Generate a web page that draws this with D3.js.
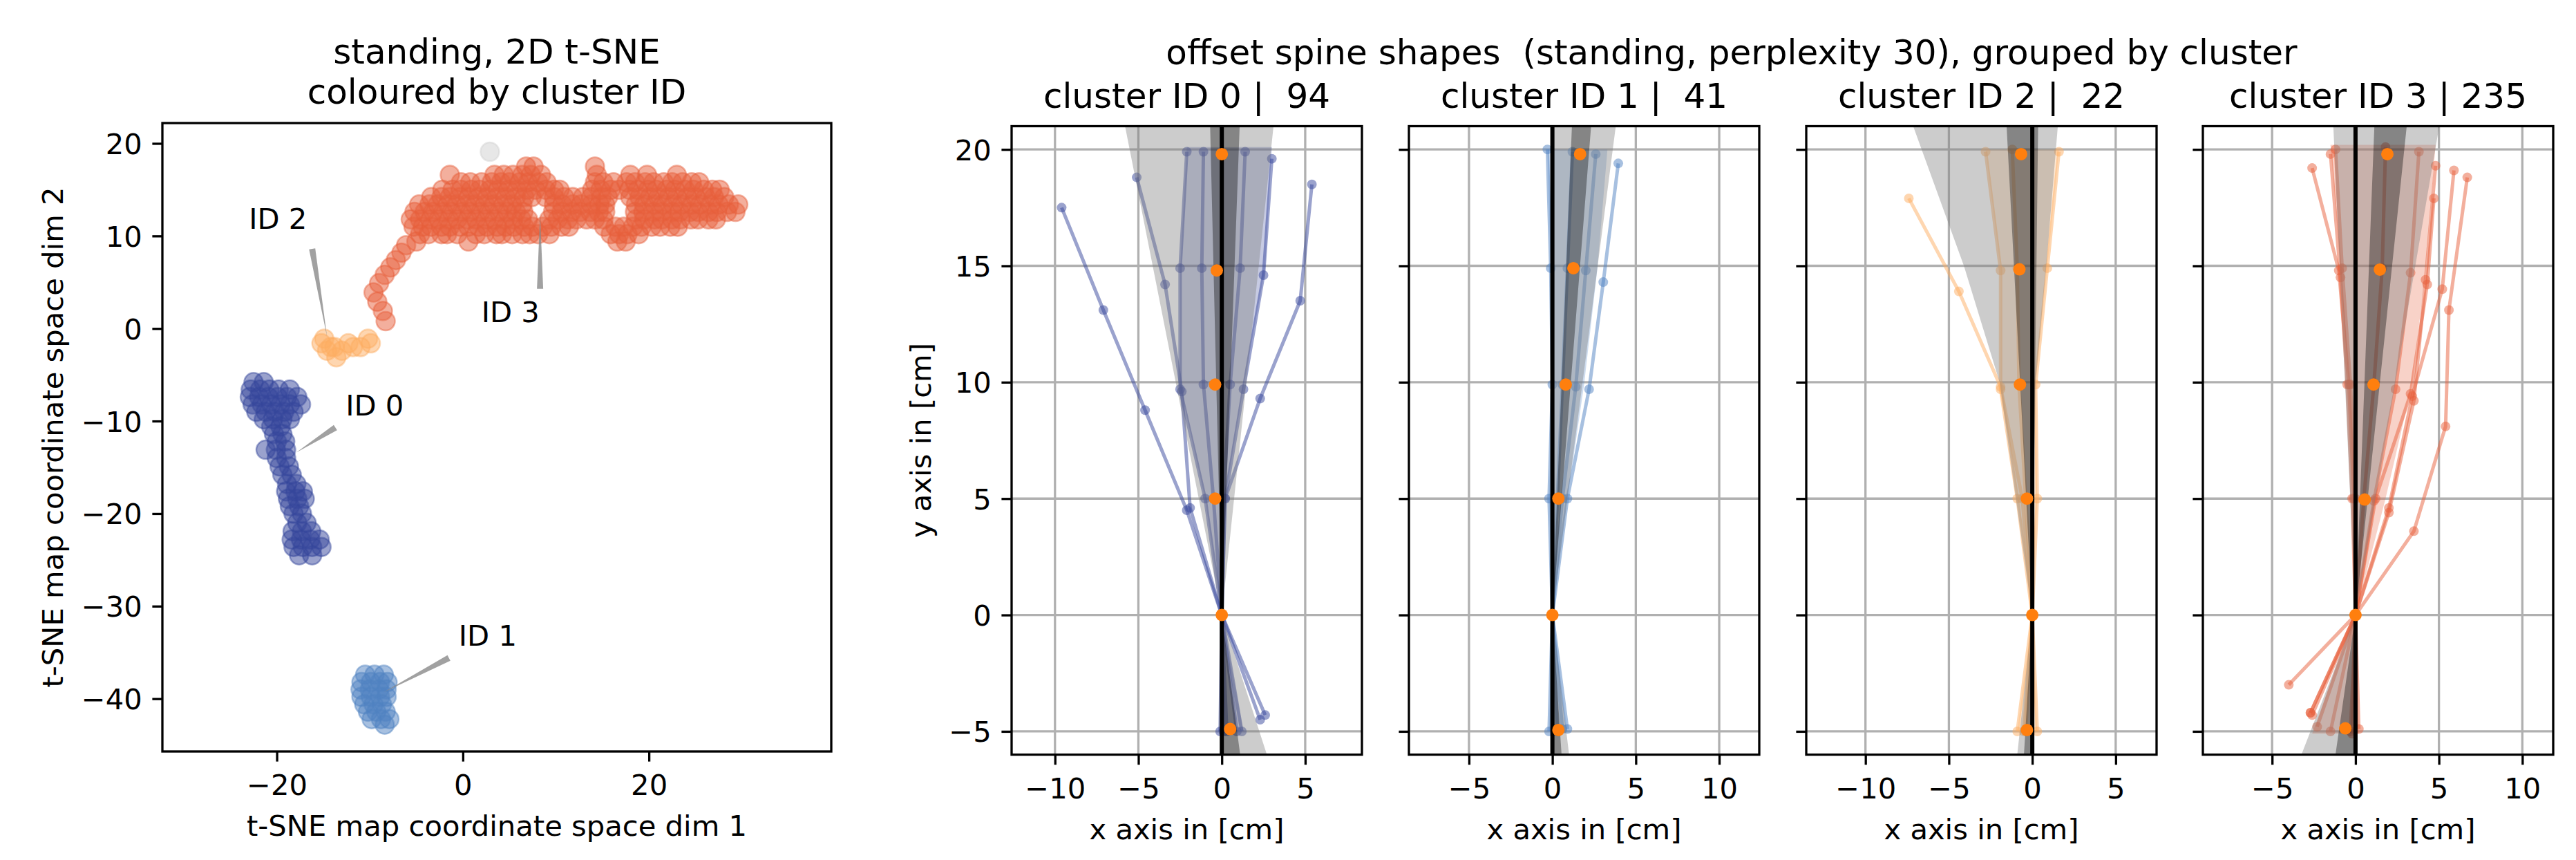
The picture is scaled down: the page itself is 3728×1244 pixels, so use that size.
<!DOCTYPE html>
<html>
<head>
<meta charset="utf-8">
<script src="https://cdn.jsdelivr.net/npm/d3@7"></script>
<style>
  body { margin: 0; background: #fff; }
  text { font-family: "DejaVu Sans", sans-serif; fill: #000; }
</style>
</head>
<body>
<div class="chart"></div>
<script>
// ---------------- data: t-SNE map (left) ----------------
var clusterIds = [0, 1, 2, 3];
var clusterColors = ["#35469c", "#4f82c2", "#fdae61", "#e75f3b"];
var noiseColor = "#d0d0d0";

// points stored as rows: [y, [x, x, ...]]
var tsneRows0 = [
  [-5.8, [-22.5, -21.4]],
  [-6.6, [-22.8, -21.8, -20.8, -19.8, -18.6]],
  [-7.4, [-22.9, -21.9, -20.9, -19.9, -18.9, -17.8]],
  [-8.2, [-22.6, -21.6, -20.6, -19.6, -18.6, -17.4]],
  [-9.0, [-22.2, -21.2, -20.2, -19.2, -18.2]],
  [-9.8, [-21.4, -20.4, -19.4, -18.6]],
  [-10.6, [-20.6, -19.6]],
  [-11.4, [-20.3, -19.4]],
  [-12.2, [-20.0, -19.1]],
  [-13.1, [-21.2, -20.1, -19.0]],
  [-14.0, [-20.0, -19.0]],
  [-14.9, [-19.7, -18.7]],
  [-15.8, [-19.4, -18.4]],
  [-16.8, [-18.9, -17.9]],
  [-17.6, [-19.0, -18.0, -17.2]],
  [-18.4, [-18.8, -17.8, -17.0]],
  [-19.2, [-18.6, -17.6]],
  [-20.0, [-18.2, -17.3]],
  [-21.0, [-17.8, -16.8]],
  [-21.9, [-18.3, -17.3, -16.3]],
  [-22.8, [-18.4, -17.4, -16.4, -15.4]],
  [-23.6, [-18.2, -17.2, -16.2, -15.2]],
  [-24.5, [-17.6, -16.2]]
];
var tsneRows1 = [
  [-37.4, [-10.5, -9.5, -8.5]],
  [-38.2, [-10.9, -9.9, -8.9, -8.1]],
  [-39.0, [-11.0, -10.0, -9.0, -8.2]],
  [-39.8, [-10.9, -9.9, -8.9, -8.2]],
  [-40.6, [-10.6, -9.6, -8.7]],
  [-41.4, [-10.2, -9.3, -8.3]],
  [-42.2, [-9.8, -8.8, -7.9]],
  [-42.8, [-8.4]]
];
var tsneRows2 = [
  [-1.1, [-14.9, -10.2]],
  [-1.6, [-15.2, -12.3, -9.9]],
  [-2.0, [-14.2, -13.8, -11.8, -11.0]],
  [-2.4, [-14.6, -13.0]],
  [-3.1, [-13.6]]
];
var tsneRows3 = [
  // rising tail
  [0.8, [-8.3]], [1.9, [-8.6]], [2.9, [-9.2]], [3.9, [-9.6]], [4.9, [-9.0]], [5.8, [-8.4]],
  [6.6, [-7.8]], [7.4, [-7.2]], [8.2, [-6.6]], [9.0, [-6.1]],
  // body
  [9.4, [-5.0, 0.6, 16.6, 17.5]],
  [10.2, [-4.6, -3.7, -2.3, -1.7, -0.6, 1.4, 2.3, 3.6, 4.2, 5.3, 6.4, 7.2, 8.1, 9.3, 15.9, 16.8, 17.7, 18.9]],
  [11.0, [-5.3, -4.3, -3.4, -2.3, -1.4, -0.3, 0.6, 1.7, 2.6, 3.7, 4.6, 5.5, 6.6, 7.5, 8.6, 9.5, 10.6, 11.4,
          15.2, 16.4, 17.3, 18.3, 19.2, 20.3, 21.2, 22.3, 23.1]],
  [11.8, [-5.6, -4.6, -3.5, -2.6, -1.5, -0.6, 0.5, 1.4, 2.5, 3.4, 4.5, 5.4, 6.3, 7.0, 9.3, 10.2, 11.3, 12.2,
          13.3, 14.2, 15.1, 18.6, 19.5, 20.6, 21.4, 22.5, 23.4, 24.5, 25.3, 26.4, 27.2]],
  [12.6, [-5.2, -4.1, -3.2, -2.1, -1.2, -0.1, 0.8, 1.9, 2.8, 3.9, 4.8, 5.7, 6.5, 9.7, 10.6, 11.7, 12.6, 13.7,
          14.6, 15.3, 18.5, 19.4, 20.5, 21.4, 22.5, 23.3, 24.4, 25.3, 26.4, 27.3, 28.4, 29.3]],
  [13.4, [-4.7, -3.6, -2.7, -1.6, -0.7, 0.4, 1.3, 2.4, 3.3, 4.4, 5.3, 6.4, 9.8, 10.7, 11.8, 12.7, 13.8, 14.7,
          15.3, 18.6, 19.5, 20.6, 21.5, 22.6, 23.5, 24.6, 25.5, 26.6, 27.5, 28.6, 29.6]],
  [14.2, [-3.4, -2.3, -1.4, -0.3, 0.6, 1.7, 2.6, 3.7, 4.6, 5.7, 6.6, 7.4, 8.9, 9.8, 10.9, 11.8, 12.9, 13.8,
          14.9, 15.6, 18.0, 19.0, 20.1, 21.0, 22.1, 23.0, 24.1, 25.0, 26.1, 27.0, 28.1]],
  [15.0, [-2.2, -1.1, -0.2, 0.9, 1.8, 2.9, 3.8, 4.9, 5.8, 6.9, 7.8, 8.9, 9.8, 10.4, 13.9, 14.8, 15.9, 16.8,
          17.9, 18.8, 19.9, 20.8, 21.9, 22.8, 23.9, 24.8, 25.9, 26.8, 27.6]],
  [15.8, [-0.2, 0.8, 2.0, 3.1, 4.1, 5.0, 6.1, 7.0, 8.1, 9.0, 14.2, 15.1, 16.2, 17.6, 18.5, 19.6, 20.5, 21.6,
          22.5, 23.6, 24.6, 25.4]],
  [16.6, [-1.4, 3.4, 4.4, 5.4, 6.4, 7.3, 8.4, 14.4, 18.0, 19.8, 23.0]],
  [17.5, [6.8, 7.6, 14.2]]
];
var tsneNoise = [[2.9, 19.1]];

var tsneXTicks = [-20, 0, 20];
var tsneYTicks = [-40, -30, -20, -10, 0, 10, 20];

var annotLabels = ["ID 0", "ID 1", "ID 2", "ID 3"];
var annotText = [[-12.6, -9.4], [-0.45, -34.3], [-23.0, 10.75], [1.99, 0.67]];
var annotFrom = [[-13.7, -10.7], [-1.5, -35.6], [-16.2, 8.6], [8.3, 4.3]];
var annotTo = [[-17.9, -13.4], [-8.5, -39.3], [-14.6, -0.9], [8.3, 12.3]];

// ---------------- data: spine shapes (right) ----------------
var panelCounts = [94, 41, 22, 235];
var panelXDomains = [[-12.6, 8.4], [-8.6, 12.4], [-13.55, 7.45], [-9.15, 11.85]];
var panelXTicks = [[-10, -5, 0, 5], [-5, 0, 5, 10], [-10, -5, 0, 5], [-5, 0, 5, 10]];
var spineYTicks = [-5, 0, 5, 10, 15, 20];

var spineLines0 = [
  [[-9.6,17.5],[-7.1,13.1],[-4.6,8.8],[-2.1,4.5],[0,0],[2.3,-4.5]],
  [[5.4,18.5],[4.7,13.5],[2.3,9.3],[0.2,5.0],[0,0],[2.6,-4.3]],
  [[-5.1,18.8],[-3.4,14.2],[-2.4,9.6],[-1.9,4.6],[0,0],[-0.1,-5.0]],
  [[-2.1,19.9],[-2.5,14.9],[-2.5,9.7],[-1.0,5.0],[0,0],[0.1,-5.0]],
  [[3.0,19.6],[2.5,14.6],[1.3,9.7],[0.2,5.0],[0,0],[0.9,-5.0]],
  [[-1.1,19.9],[-1.2,14.9],[-1.1,9.9],[-0.5,5.0],[0,0],[0.3,-5.0]],
  [[1.4,19.9],[1.1,14.9],[0.5,9.9],[0.1,5.0],[0,0],[1.2,-5.0]]
];
var spineLines1 = [
  [[-0.3,20.0],[-0.1,14.9],[0.0,9.9],[-0.2,5.0],[0,0],[-0.2,-5.0]],
  [[1.2,19.9],[0.9,14.9],[0.6,9.9],[0.3,5.0],[0,0],[0.3,-5.0]],
  [[2.6,19.8],[2.0,14.8],[1.4,9.8],[0.6,5.0],[0,0],[0.6,-4.9]],
  [[3.95,19.4],[3.05,14.3],[2.2,9.7],[0.9,5.0],[0,0],[0.9,-4.9]]
];
var spineLines2 = [
  [[-7.4,17.9],[-4.4,13.9],[-1.9,9.8],[-0.6,5.0],[0,0],[-0.5,-5.0]],
  [[-2.8,19.9],[-1.9,14.8],[-1.9,9.7],[-0.9,5.0],[0,0],[-0.9,-5.0]],
  [[-1.2,20.0],[-0.9,14.9],[-0.8,9.9],[-0.4,5.0],[0,0],[-0.4,-5.0]],
  [[1.6,19.9],[0.9,14.9],[0.2,9.9],[0.3,5.0],[0,0],[0.3,-5.0]]
];
var spineLines3 = [
  [[-2.6,19.2],[-1.0,14.8],[-0.4,9.9],[-0.1,5.0],[0,0],[-0.3,-5.0]],
  [[-1.5,19.8],[-0.9,14.5],[-0.5,9.9],[-0.2,5.0],[0,0],[-2.7,-4.2]],
  [[6.7,18.8],[5.6,13.1],[5.4,8.1],[3.5,3.6],[0,0],[-4.0,-3.0]],
  [[5.9,19.1],[5.2,14.0],[3.4,9.4],[2.0,4.6],[0,0],[-2.7,-4.2]],
  [[4.8,19.3],[4.2,14.4],[3.5,9.2],[2.0,4.4],[0,0],[-2.6,-4.3]],
  [[4.7,17.9],[4.3,14.2],[3.3,9.5],[1.2,5.0],[0,0],[0.2,-4.9]],
  [[-1.2,20.0],[-0.8,14.9],[-0.3,9.9],[0.0,5.0],[0,0],[-0.2,-5.1]],
  [[1.8,20.1],[1.6,14.9],[1.1,9.9],[0.5,5.0],[0,0],[-1.5,-5.0]],
  [[3.8,19.9],[3.3,14.7],[2.4,9.7],[1.1,4.9],[0,0],[-2.3,-4.8]]
];

// envelope of the bulk of the shapes: rows of [y, x left, x right]
var shapeBand0 = [[20.1,-2.1,3.0],[14.9,-2.5,2.6],[9.8,-2.5,1.3],[5.0,-1.0,0.2],[0,0,0],[-5.0,0,1.3]];
var shapeBand1 = [[20.0,-0.3,3.3],[14.9,-0.1,2.7],[9.9,0,1.9],[5.0,-0.2,0.9],[0,0,0],[-5.0,-0.2,0.9]];
var shapeBand2 = [[20.0,-2.8,1.6],[14.9,-1.9,0.9],[9.9,-1.9,0.2],[5.0,-0.9,0.3],[0,0,0],[-5.0,-0.9,0.3]];
var shapeBand3 = [[20.2,-1.5,4.8],[14.9,-0.9,4.2],[9.9,-0.4,3.4],[5.0,-0.1,1.8],[0,0,0],[-5.1,-2.6,0.2]];

// mean shape per cluster (orange dots)
var spineMeans0 = [[0.0,19.8],[-0.3,14.8],[-0.4,9.9],[-0.4,5.0],[0,0],[0.5,-4.9]];
var spineMeans1 = [[1.66,19.8],[1.26,14.9],[0.8,9.9],[0.36,5.0],[0,0],[0.36,-4.94]];
var spineMeans2 = [[-0.67,19.8],[-0.77,14.85],[-0.74,9.9],[-0.32,5.0],[0,0],[-0.32,-4.94]];
var spineMeans3 = [[1.91,19.8],[1.46,14.84],[1.08,9.9],[0.55,4.96],[0,0],[-0.61,-4.87]];

// spread bands: rows of [y, x left, x right]
var bandLight0 = [[21,-5.8,3.1],[0,0,0],[-6,0,2.7]];
var bandLight1 = [[21,0.1,3.8],[0,0,0],[-6,0,1.0]];
var bandLight2 = [[21,-7.14,1.53],[15,-4.1,0.84],[10,-1.96,0.2],[0,0,0],[-6,-0.9,0.1]];
var bandLight3 = [[21,-1.33,5.02],[0,0,0],[-6,-3.24,-0.1]];
var bandDark0 = [[21,-0.7,1.07],[0,0,0],[-6,0,1.1]];
var bandDark1 = [[21,1.17,2.32],[0,0,0],[-6,0.1,0.55]];
var bandDark2 = [[21,-1.54,0.35],[0,0,0],[-6,-0.5,0.05]];
var bandDark3 = [[21,1.13,3.07],[0,0,0],[-6,-1.2,-0.1]];

// ---------------- layout ----------------
var svgWidth = 3728;
var svgHeight = 1244;
var FS = 41.7;     // 10pt at 300 dpi
var TFS = 50;      // 12pt
var LW = 3.3;      // 0.8pt

var svg = d3.select(".chart")
  .append("svg")
  .attr("width", svgWidth)
  .attr("height", svgHeight);

function styleAxis(g) {
  g.attr("font-family", "DejaVu Sans").attr("font-size", FS);
  g.select(".domain").remove();
  g.selectAll(".tick line").attr("stroke", "#000").attr("stroke-width", LW);
  g.selectAll(".tick text").attr("fill", "#000");
}

// ================= left: t-SNE scatter =================
var tsneBox = { left: 235, right: 1203, top: 178, bottom: 1087 };
var xT = d3.scaleLinear().domain([-32.3, 39.6]).range([tsneBox.left, tsneBox.right]);
var yT = d3.scaleLinear().domain([-45.7, 22.2]).range([tsneBox.bottom, tsneBox.top]);

var left = svg.append("g");

var allRows = [tsneRows0, tsneRows1, tsneRows2, tsneRows3];
var scatterData = [];
tsneNoise.forEach(function(p) { scatterData.push({ x: p[0], y: p[1], c: noiseColor }); });
clusterIds.forEach(function(id) {
  allRows[id].forEach(function(row) {
    row[1].forEach(function(x) { scatterData.push({ x: x, y: row[0], c: clusterColors[id] }); });
  });
});

left.append("g").selectAll("circle")
  .data(scatterData)
  .enter()
  .append("circle")
  .attr("cx", function(d) { return xT(d.x); })
  .attr("cy", function(d) { return yT(d.y); })
  .attr("r", 13.5)
  .attr("fill", function(d) { return d.c; })
  .attr("fill-opacity", 0.5)
  .attr("stroke", function(d) { return d.c; })
  .attr("stroke-opacity", 0.45)
  .attr("stroke-width", 2.5);

// annotation wedges + labels
function wedge(x0, y0, x1, y1, w) {
  var dx = x1 - x0, dy = y1 - y0, L = Math.hypot(dx, dy);
  var nx = -dy / L * w / 2, ny = dx / L * w / 2;
  return [[x0 + nx, y0 + ny], [x0 - nx, y0 - ny], [x1, y1]];
}
annotLabels.forEach(function(lab, i) {
  var pts = wedge(xT(annotFrom[i][0]), yT(annotFrom[i][1]), xT(annotTo[i][0]), yT(annotTo[i][1]), 9);
  left.append("polygon")
    .attr("points", pts.map(function(p) { return p.join(","); }).join(" "))
    .attr("fill", "#8a8a8a")
    .attr("fill-opacity", 0.8);
  left.append("text")
    .attr("x", xT(annotText[i][0]))
    .attr("y", yT(annotText[i][1]))
    .attr("font-size", FS)
    .text(lab);
});

left.append("g")
  .attr("transform", "translate(0," + tsneBox.bottom + ")")
  .call(d3.axisBottom(xT).tickValues(tsneXTicks).tickSize(14.6).tickSizeOuter(0).tickPadding(18.8))
  .call(styleAxis);
left.append("g")
  .attr("transform", "translate(" + tsneBox.left + ",0)")
  .call(d3.axisLeft(yT).tickValues(tsneYTicks).tickSize(14.6).tickSizeOuter(0).tickPadding(14.6))
  .call(styleAxis)
  .selectAll(".tick text").attr("dy", "0.36em");

left.append("rect")
  .attr("x", tsneBox.left).attr("y", tsneBox.top)
  .attr("width", tsneBox.right - tsneBox.left)
  .attr("height", tsneBox.bottom - tsneBox.top)
  .attr("fill", "none").attr("stroke", "#000").attr("stroke-width", LW);

var tsneMid = (tsneBox.left + tsneBox.right) / 2;
left.append("text").attr("x", tsneMid).attr("y", 92).attr("text-anchor", "middle")
  .attr("font-size", TFS).text("standing, 2D t-SNE");
left.append("text").attr("x", tsneMid).attr("y", 150).attr("text-anchor", "middle")
  .attr("font-size", TFS).text("coloured by cluster ID");
left.append("text").attr("x", tsneMid).attr("y", tsneBox.bottom + 122).attr("text-anchor", "middle")
  .attr("font-size", FS).text("t-SNE map coordinate space dim 1");
left.append("text")
  .attr("transform", "translate(91," + ((tsneBox.top + tsneBox.bottom) / 2) + ") rotate(-90)")
  .attr("text-anchor", "middle")
  .attr("font-size", FS).text("t-SNE map coordinate space dim 2");

// ================= right: spine shapes per cluster =================
var panelLefts = [1464, 2039, 2614, 3188];
var panelW = 507;
var pTop = 182.5, pBottom = 1091.6;
var yS = d3.scaleLinear().domain([-6, 21]).range([pBottom, pTop]);

var spineLines = [spineLines0, spineLines1, spineLines2, spineLines3];
var shapeBands = [shapeBand0, shapeBand1, shapeBand2, shapeBand3];
var spineMeans = [spineMeans0, spineMeans1, spineMeans2, spineMeans3];
var bandLight = [bandLight0, bandLight1, bandLight2, bandLight3];
var bandDark = [bandDark0, bandDark1, bandDark2, bandDark3];

var defs = svg.append("defs");

clusterIds.forEach(function(id) {
  var x0 = panelLefts[id], x1 = x0 + panelW;
  var xS = d3.scaleLinear().domain(panelXDomains[id]).range([x0, x1]);
  var g = svg.append("g");

  defs.append("clipPath").attr("id", "clip" + id)
    .append("rect").attr("x", x0).attr("y", pTop).attr("width", panelW).attr("height", pBottom - pTop);
  var plot = g.append("g").attr("clip-path", "url(#clip" + id + ")");

  // grid
  plot.selectAll(".vgrid").data(panelXTicks[id]).enter().append("line")
    .attr("x1", function(d) { return xS(d); }).attr("x2", function(d) { return xS(d); })
    .attr("y1", pTop).attr("y2", pBottom)
    .attr("stroke", "#b0b0b0").attr("stroke-width", LW);
  plot.selectAll(".hgrid").data(spineYTicks).enter().append("line")
    .attr("y1", function(d) { return yS(d); }).attr("y2", function(d) { return yS(d); })
    .attr("x1", x0).attr("x2", x1)
    .attr("stroke", "#b0b0b0").attr("stroke-width", LW);

  var area = d3.area()
    .y(function(d) { return yS(d[0]); })
    .x0(function(d) { return xS(d[1]); })
    .x1(function(d) { return xS(d[2]); });

  // bulk of the shapes
  plot.append("path").attr("d", area(shapeBands[id]))
    .attr("fill", clusterColors[id]).attr("fill-opacity", 0.28);

  // individual spine shapes
  var line = d3.line().x(function(d) { return xS(d[0]); }).y(function(d) { return yS(d[1]); });
  var shapes = plot.selectAll(".shape").data(spineLines[id]).enter().append("g");
  shapes.append("path")
    .attr("d", line)
    .attr("fill", "none")
    .attr("stroke", clusterColors[id])
    .attr("stroke-opacity", 0.5)
    .attr("stroke-width", 5);
  shapes.selectAll("circle").data(function(d) { return d; }).enter().append("circle")
    .attr("cx", function(d) { return xS(d[0]); })
    .attr("cy", function(d) { return yS(d[1]); })
    .attr("r", 7)
    .attr("fill", clusterColors[id])
    .attr("fill-opacity", 0.5);

  // spread bands
  plot.append("path").attr("d", area(bandLight[id]))
    .attr("fill", "#808080").attr("fill-opacity", 0.4);
  plot.append("path").attr("d", area(bandDark[id]))
    .attr("fill", "#000").attr("fill-opacity", 0.35);

  // zero line
  plot.append("line")
    .attr("x1", xS(0)).attr("x2", xS(0))
    .attr("y1", pTop).attr("y2", pBottom)
    .attr("stroke", "#000").attr("stroke-width", 6);

  // mean shape
  plot.selectAll(".mean").data(spineMeans[id]).enter().append("circle")
    .attr("cx", function(d) { return xS(d[0]); })
    .attr("cy", function(d) { return yS(d[1]); })
    .attr("r", 9)
    .attr("fill", "#ff7f0e");

  // axes
  g.append("g")
    .attr("transform", "translate(0," + pBottom + ")")
    .call(d3.axisBottom(xS).tickValues(panelXTicks[id]).tickSize(14.6).tickSizeOuter(0).tickPadding(18.8))
    .call(styleAxis);
  var yAx = g.append("g")
    .attr("transform", "translate(" + x0 + ",0)")
    .call(d3.axisLeft(yS).tickValues(spineYTicks).tickSize(14.6).tickSizeOuter(0).tickPadding(14.6))
    .call(styleAxis);
  yAx.selectAll(".tick text").attr("dy", "0.36em");
  if (id > 0) yAx.selectAll(".tick text").remove();

  g.append("rect")
    .attr("x", x0).attr("y", pTop).attr("width", panelW).attr("height", pBottom - pTop)
    .attr("fill", "none").attr("stroke", "#000").attr("stroke-width", LW);

  var mid = (x0 + x1) / 2;
  g.append("text").attr("x", mid).attr("y", 156).attr("text-anchor", "middle")
    .attr("font-size", TFS).style("white-space", "pre")
    .text("cluster ID " + id + " | " + d3.format("3d")(panelCounts[id]));
  g.append("text").attr("x", mid).attr("y", pBottom + 122).attr("text-anchor", "middle")
    .attr("font-size", FS).text("x axis in [cm]");
});

svg.append("text")
  .attr("transform", "translate(1347," + ((pTop + pBottom) / 2) + ") rotate(-90)")
  .attr("text-anchor", "middle")
  .attr("font-size", FS).text("y axis in [cm]");

svg.append("text").attr("x", 2506).attr("y", 93).attr("text-anchor", "middle")
  .attr("font-size", TFS).style("white-space", "pre")
  .text("offset spine shapes  (standing, perplexity 30), grouped by cluster");
</script>
</body>
</html>
